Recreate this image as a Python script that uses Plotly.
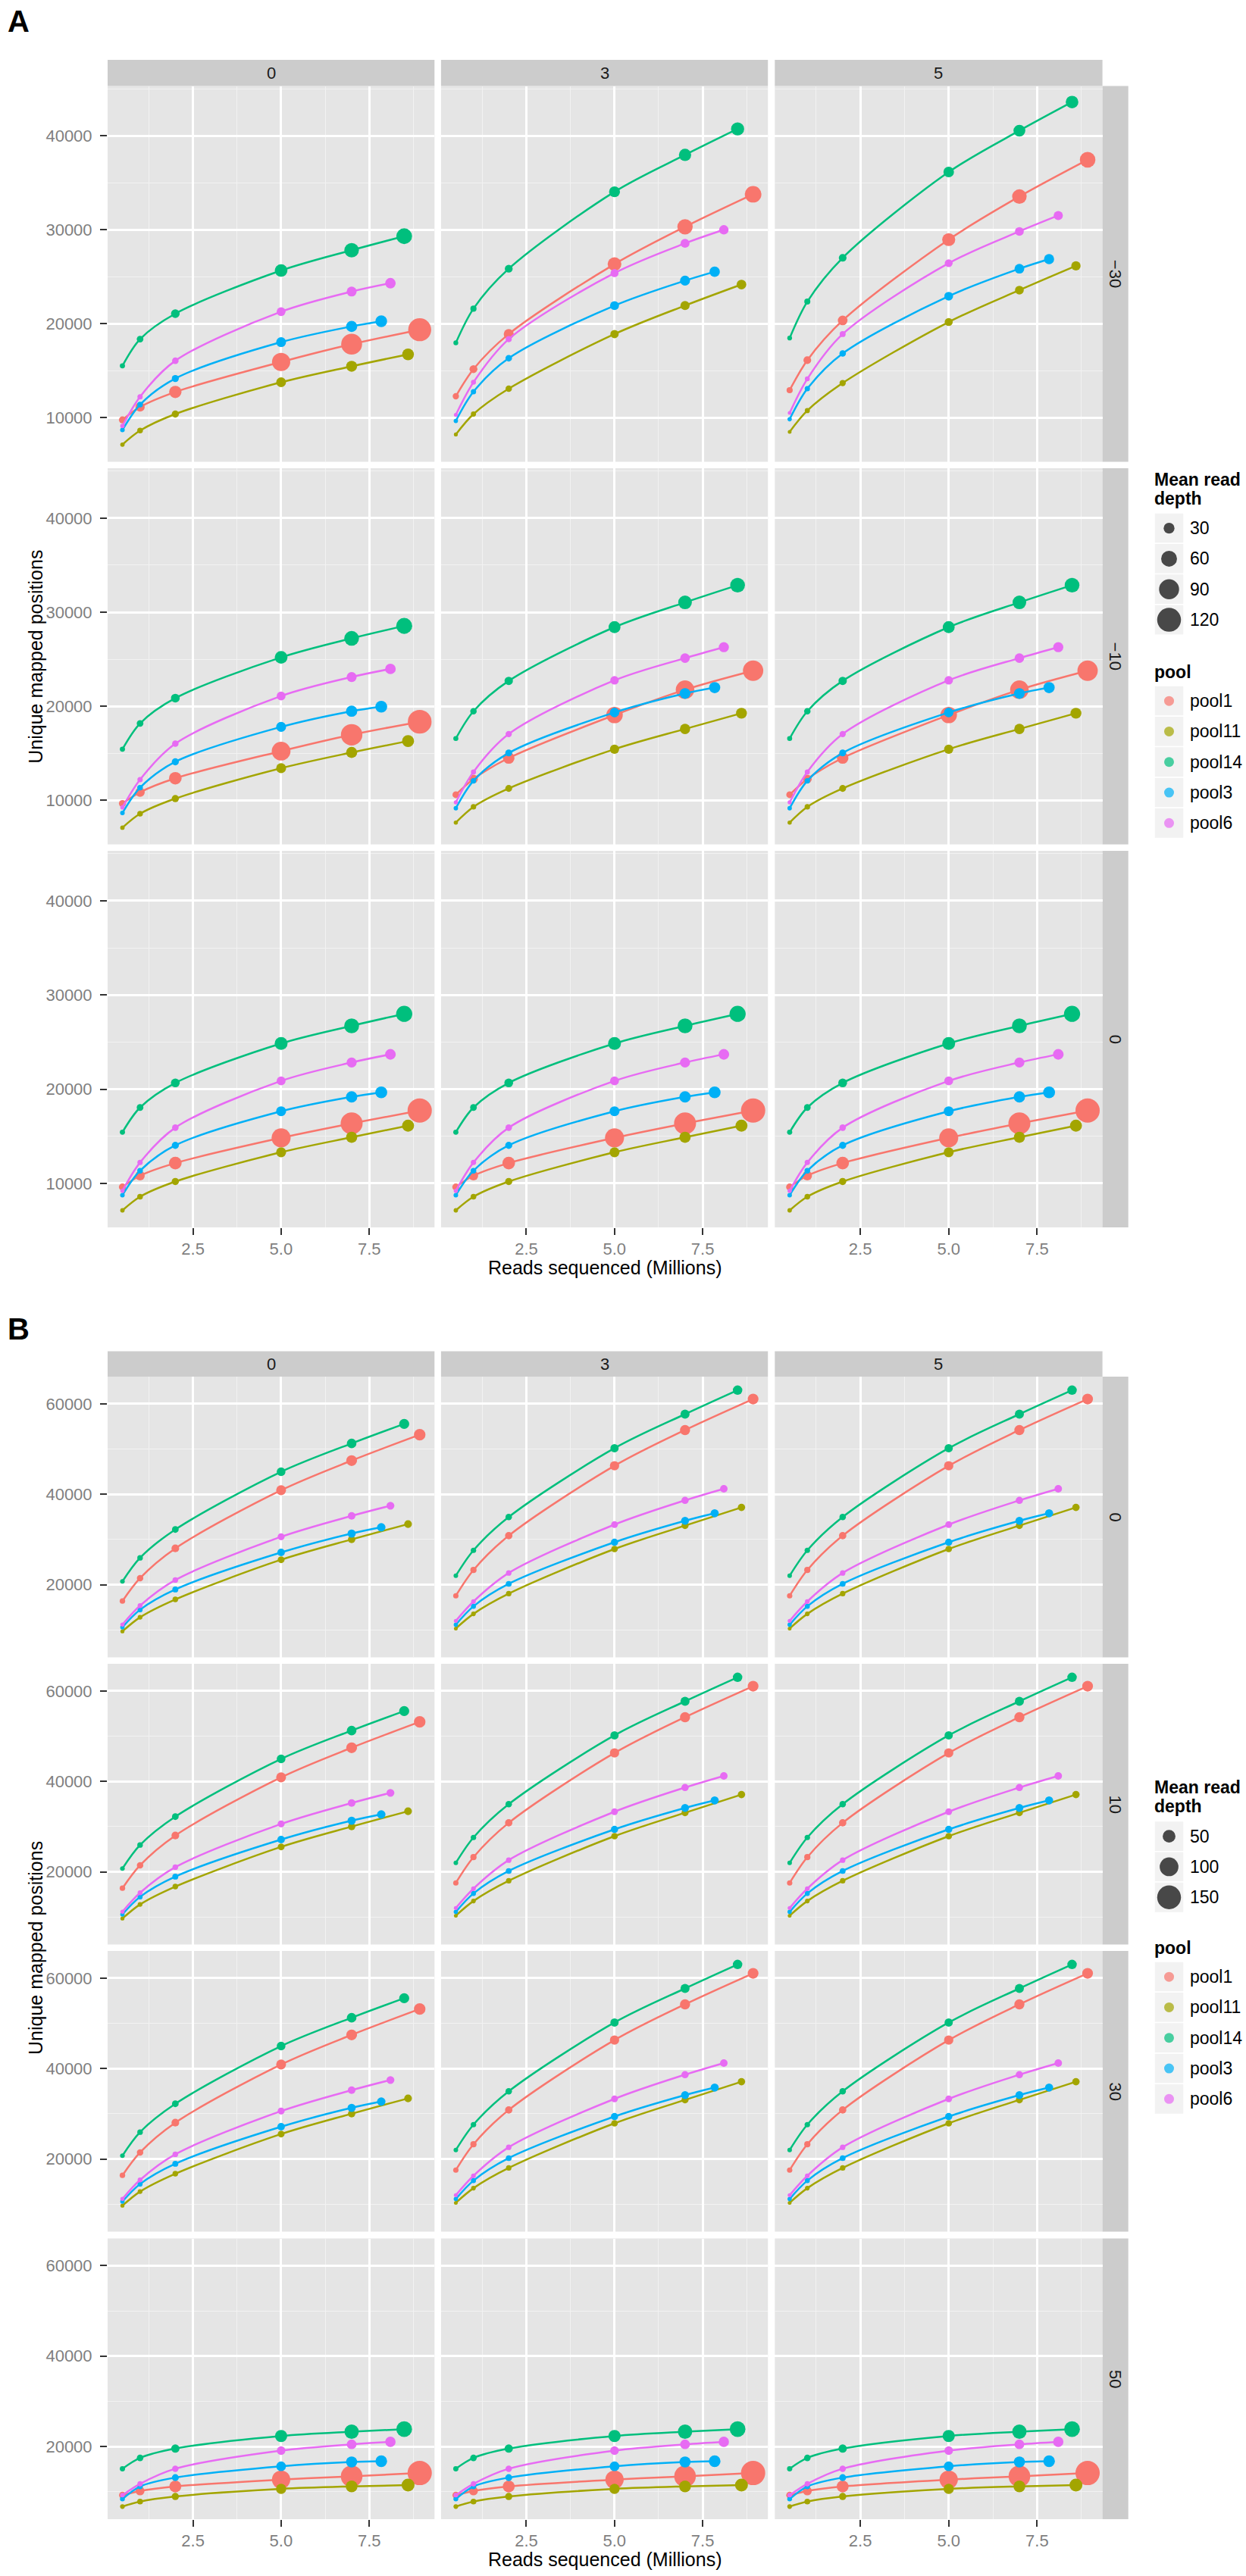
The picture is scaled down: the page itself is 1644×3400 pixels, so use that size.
import plotly.graph_objects as go

W, H = 1644, 3400
FONT = "Liberation Sans, Arial, sans-serif"

pools = ["pool1", "pool11", "pool14", "pool3", "pool6"]
pool_colors = ["#F8766D", "#A3A500", "#00BF7D", "#00B0F6", "#E76BF3"]

# reads sequenced (millions) at each subsample, per pool
reads = {
    "pool1": [0.5, 1, 2, 5, 7, 8.93],
    "pool11": [0.5, 1, 2, 5, 7, 8.6],
    "pool14": [0.5, 1, 2, 5, 7, 8.49],
    "pool3": [0.5, 1, 2, 5, 7, 7.84],
    "pool6": [0.5, 1, 2, 5, 7, 8.1],
}

x_ticks = [2.5, 5.0, 7.5]
x_minor = [1.25, 3.75, 6.25, 8.75]

#%% panel A : rows -30 / -10 / 0, columns 0 / 3 / 5

a_cols = ["0", "3", "5"]
a_rows = ["\u221230", "\u221210", "0"]
a_yticks = [10000, 20000, 30000, 40000]
a_yminor = [15000, 25000, 35000, 45000]
a_size_breaks = [30, 60, 90, 120]

posA_m30_0 = {
    "pool1": [9780, 11150, 12750, 15940, 17830, 19370],
    "pool11": [7150, 8640, 10400, 13780, 15480, 16750],
    "pool14": [15530, 18370, 21080, 25670, 27830, 29320],
    "pool3": [8700, 11400, 14180, 18050, 19720, 20270],
    "pool6": [9130, 12240, 16070, 21290, 23430, 24320],
}
depA_m30_0 = {
    "pool1": [12.5, 22.0, 38.4, 76.9, 96.2, 113],
    "pool11": [4.8, 7.9, 13.1, 24.7, 30.7, 34.9],
    "pool14": [6.6, 11.2, 19.5, 39.9, 51.6, 59.4],
    "pool3": [5.2, 7.9, 12.7, 24.9, 31.9, 34.8],
    "pool6": [4.7, 6.9, 10.6, 20.0, 25.4, 28.3],
}
posA_m30_3 = {
    "pool1": [12290, 15180, 18910, 26350, 30320, 33780],
    "pool11": [8230, 10400, 13100, 18910, 21940, 24180],
    "pool14": [17970, 21610, 25860, 34050, 37970, 40730],
    "pool3": [9670, 12770, 16340, 21940, 24590, 25540],
    "pool6": [10320, 13780, 18370, 25400, 28560, 30000],
}
depA_m30_3 = {
    "pool1": [10.0, 16.1, 25.9, 46.5, 56.6, 64.8],
    "pool11": [4.1, 6.5, 10.4, 18.0, 21.7, 24.2],
    "pool14": [5.7, 9.5, 15.9, 30.1, 37.8, 42.7],
    "pool3": [4.7, 7.0, 11.0, 20.5, 25.6, 27.6],
    "pool6": [4.1, 6.2, 9.3, 16.7, 20.8, 23.0],
}
posA_m30_5 = {
    "pool1": [12940, 16130, 20360, 28960, 33540, 37450],
    "pool11": [8510, 10770, 13700, 20190, 23580, 26160],
    "pool14": [18480, 22360, 27020, 36150, 40550, 43590],
    "pool3": [9850, 13090, 16850, 22940, 25860, 26880],
    "pool6": [10510, 14140, 18910, 26450, 29830, 31520],
}
depA_m30_5 = {
    "pool1": [9.5, 15.2, 24.1, 42.3, 51.1, 58.4],
    "pool11": [4.0, 6.3, 9.9, 16.8, 20.2, 22.4],
    "pool14": [5.5, 9.2, 15.2, 28.4, 35.4, 39.9],
    "pool3": [4.6, 6.9, 10.7, 19.6, 24.4, 26.3],
    "pool6": [4.0, 6.0, 9.0, 16.1, 19.9, 21.8],
}
posA_m10_0 = {
    "pool1": [9660, 10870, 12350, 15230, 16970, 18350],
    "pool11": [7100, 8580, 10190, 13420, 15090, 16300],
    "pool14": [15440, 18180, 20870, 25200, 27220, 28540],
    "pool3": [8660, 11350, 14100, 17810, 19480, 19960],
    "pool6": [9250, 12210, 16030, 21090, 23110, 23970],
}
depA_m10_0 = {
    "pool1": [12.7, 22.5, 39.7, 80.4, 101, 119],
    "pool11": [4.8, 7.9, 13.3, 25.3, 31.5, 35.9],
    "pool14": [6.6, 11.3, 19.6, 40.7, 52.7, 61.0],
    "pool3": [5.2, 7.9, 12.8, 25.3, 32.3, 35.4],
    "pool6": [4.6, 7.0, 10.6, 20.2, 25.7, 28.7],
}
# -10 / 3 and -10 / 5 read the same in the figure
posA_m10_3 = {
    "pool1": [10600, 12270, 14500, 19070, 21760, 23780],
    "pool11": [7640, 9310, 11270, 15440, 17590, 19260],
    "pool14": [16570, 19470, 22700, 28410, 31040, 32870],
    "pool3": [9170, 12080, 15040, 19340, 21360, 21980],
    "pool6": [9790, 13020, 17050, 22760, 25120, 26280],
}
depA_m10_3 = {
    "pool1": [11.6, 20.0, 33.8, 64.2, 78.8, 92.0],
    "pool11": [4.5, 7.3, 12.1, 22.0, 27.1, 30.4],
    "pool14": [6.2, 10.5, 18.1, 36.1, 46.2, 52.9],
    "pool3": [4.9, 7.5, 12.0, 23.3, 29.5, 32.1],
    "pool6": [4.3, 6.5, 10.0, 18.7, 23.7, 26.2],
}
# row 0 is the same in all three columns
posA_0 = {
    "pool1": [9600, 10810, 12150, 14830, 16360, 17730],
    "pool11": [7130, 8580, 10190, 13300, 14890, 16120],
    "pool14": [15430, 18050, 20660, 24850, 26720, 27990],
    "pool3": [8740, 11340, 14030, 17650, 19180, 19660],
    "pool6": [9200, 12210, 15910, 20870, 22830, 23690],
}
depA_0 = {
    "pool1": [12.8, 22.7, 40.3, 82.6, 104.8, 123.4],
    "pool11": [4.8, 7.9, 13.3, 25.6, 32.0, 36.3],
    "pool14": [6.6, 11.4, 19.8, 41.2, 53.7, 62.2],
    "pool3": [5.1, 7.9, 12.8, 25.5, 32.8, 35.9],
    "pool6": [4.6, 7.0, 10.7, 20.4, 26.1, 29.1],
}

#%% panel B : rows 0 / 10 / 30 / 50, columns 0 / 3 / 5

b_cols = ["0", "3", "5"]
b_rows = ["0", "10", "30", "50"]
b_yticks = [20000, 40000, 60000]
b_yminor = [10000, 30000, 50000]
b_size_breaks = [50, 100, 150]

# rows 0, 10 and 30 read the same
posB_0 = {
    "pool1": [16390, 21470, 28040, 40900, 47450, 53160],
    "pool11": [9700, 12810, 16750, 25530, 30020, 33410],
    "pool14": [20750, 25950, 32220, 44970, 51240, 55550],
    "pool3": [10600, 14480, 18960, 27140, 31320, 32700],
    "pool6": [11200, 15380, 21050, 30600, 35220, 37470],
}
depB_0 = {
    "pool1": [7.5, 11.4, 17.5, 30.0, 36.1, 41.2],
    "pool11": [3.5, 5.3, 8.1, 13.3, 15.9, 17.5],
    "pool14": [4.9, 7.9, 12.7, 22.8, 28.0, 31.3],
    "pool3": [4.2, 6.2, 9.5, 16.6, 20.1, 21.6],
    "pool6": [3.8, 5.5, 8.1, 13.9, 16.9, 18.4],
}
# columns 3 and 5 read the same
posB_3 = {
    "pool1": [17570, 23260, 30850, 46290, 54200, 61050],
    "pool11": [10330, 13560, 18030, 27900, 33080, 37090],
    "pool14": [22000, 27610, 34970, 50180, 57710, 63010],
    "pool3": [11170, 15230, 20200, 29400, 34130, 35800],
    "pool6": [12010, 16300, 22600, 33300, 38650, 41220],
}
depB_3 = {
    "pool1": [7.0, 10.5, 15.9, 26.5, 31.6, 35.8],
    "pool11": [3.3, 5.0, 7.5, 12.2, 14.4, 15.8],
    "pool14": [4.7, 7.4, 11.7, 20.4, 24.9, 27.6],
    "pool3": [4.0, 5.9, 8.9, 15.3, 18.5, 19.7],
    "pool6": [3.5, 5.2, 7.5, 12.8, 15.4, 16.7],
}
posB_50 = {
    "pool1": [9250, 10190, 11190, 12690, 13420, 14150],
    "pool11": [6740, 7840, 8960, 10640, 11190, 11470],
    "pool14": [15100, 17490, 19550, 22340, 23290, 23850],
    "pool3": [8410, 11190, 13140, 15650, 16600, 16770],
    "pool6": [9250, 11760, 15100, 19110, 20500, 21050],
}
depB_50 = {
    "pool1": [13.2, 24.0, 43.8, 96.5, 127.8, 154.6],
    "pool11": [5.0, 8.7, 15.2, 32.0, 42.5, 51.0],
    "pool14": [6.8, 11.7, 21.0, 45.9, 61.6, 73.0],
    "pool3": [5.4, 8.0, 13.7, 28.8, 38.0, 42.1],
    "pool6": [4.6, 7.2, 11.3, 22.2, 29.0, 32.7],
}

gridA = [
    [(posA_m30_0, depA_m30_0), (posA_m30_3, depA_m30_3), (posA_m30_5, depA_m30_5)],
    [(posA_m10_0, depA_m10_0), (posA_m10_3, depA_m10_3), (posA_m10_3, depA_m10_3)],
    [(posA_0, depA_0), (posA_0, depA_0), (posA_0, depA_0)],
]
gridB = [
    [(posB_0, depB_0), (posB_3, depB_3), (posB_3, depB_3)],
    [(posB_0, depB_0), (posB_3, depB_3), (posB_3, depB_3)],
    [(posB_0, depB_0), (posB_3, depB_3), (posB_3, depB_3)],
    [(posB_50, depB_50), (posB_50, depB_50), (posB_50, depB_50)],
]

#%% layout helpers (pixel positions of the ggplot panels)

COLS_PX = [(142.0, 573.3), (581.9, 1013.2), (1022.3, 1454.6)]
RSTRIP_PX = (1454.6, 1488.7)
A_ROWS_PX = [(113.5, 609.5), (618.0, 1114.5), (1123.0, 1620.0)]
A_STRIP_TOP = 79.0
B_ROWS_PX = [(1817.0, 2187.5), (2196.0, 2566.5), (2575.0, 2945.5), (2954.5, 3325.0)]
B_STRIP_TOP = 1783.5

X_RANGE = [0.08, 9.35]
A_YRANGE = [5320, 45300]
B_YRANGE = [3950, 66000]


def px_x(v):
    return v / W


def px_y(v):
    return 1 - v / H


def size_px(v, lo, hi):
    t = max(v - lo, 0) / (hi - lo)
    return 5 + 27 * t ** 0.7


def depth_limits(grid):
    vals = [v for row in grid for _, dep in row for p in pools for v in dep[p]]
    return min(vals), max(vals)


fig = go.Figure()
layout = {}
shapes = []
annotations = []


def rect(x0, x1, y0, y1, fill, line_color=None):
    shapes.append(dict(
        type="rect", xref="paper", yref="paper", layer="below",
        x0=px_x(x0), x1=px_x(x1), y0=px_y(y1), y1=px_y(y0),
        fillcolor=fill,
        line=dict(width=1.5 if line_color else 0, color=line_color or fill),
    ))


def text(s, x, y, size=22, color="#1A1A1A", xanchor="center", angle=0, bold=False):
    annotations.append(dict(
        text=f"<b>{s}</b>" if bold else s, x=px_x(x), y=px_y(y),
        xref="paper", yref="paper", showarrow=False,
        xanchor=xanchor, yanchor="middle", textangle=angle,
        font=dict(family=FONT, size=size, color=color),
    ))


def add_facets(grid, rows_px, strip_top, y_range, y_ticks, y_minor,
               col_labels, row_labels, start):
    lo, hi = depth_limits(grid)
    n_rows = len(rows_px)
    for r, (top, bot) in enumerate(rows_px):
        for c, (left, right) in enumerate(COLS_PX):
            n = start + r * 3 + c
            sfx = "" if n == 1 else str(n)
            pos, dep = grid[r][c]
            bottom_row = r == n_rows - 1
            left_col = c == 0
            common = dict(
                showgrid=True, gridcolor="white", gridwidth=2.7,
                zeroline=False, showline=False,
                ticklen=9, tickwidth=2.2, tickcolor="#333333",
                tickfont=dict(family=FONT, size=22, color="#7F7F7F"),
                fixedrange=True,
            )
            layout[f"xaxis{sfx}"] = dict(
                common, domain=[px_x(left), px_x(right)], range=X_RANGE,
                anchor=f"y{sfx}", tickmode="array", tickvals=x_ticks,
                tickformat=".1f", showticklabels=bottom_row,
                ticks="outside" if bottom_row else "",
                minor=dict(tickmode="array", tickvals=x_minor, showgrid=True,
                           gridcolor="#F2F2F2", gridwidth=1.3, ticks=""),
            )
            layout[f"yaxis{sfx}"] = dict(
                common, domain=[px_y(bot), px_y(top)], range=y_range,
                anchor=f"x{sfx}", tickmode="array", tickvals=y_ticks,
                tickformat="d", showticklabels=left_col,
                ticks="outside" if left_col else "", ticklabelstandoff=6,
                minor=dict(tickmode="array", tickvals=y_minor, showgrid=True,
                           gridcolor="#F2F2F2", gridwidth=1.3, ticks=""),
            )
            rect(left, right, top, bot, "#E5E5E5")
            for p, color in zip(pools, pool_colors):
                fig.add_trace(go.Scatter(
                    x=reads[p], y=pos[p], mode="lines+markers",
                    line=dict(color=color, width=2.5, shape="spline", smoothing=0.9),
                    marker=dict(color=color, opacity=1,
                                size=[size_px(v, lo, hi) for v in dep[p]],
                                line=dict(width=0)),
                    xaxis=f"x{sfx}", yaxis=f"y{sfx}",
                    showlegend=False, hoverinfo="skip",
                ))
        rect(RSTRIP_PX[0], RSTRIP_PX[1], top, bot, "#CCCCCC")
        text(row_labels[r], sum(RSTRIP_PX) / 2, (top + bot) / 2, angle=90)
    for c, (left, right) in enumerate(COLS_PX):
        rect(left, right, strip_top, rows_px[0][0], "#CCCCCC")
        text(col_labels[c], (left + right) / 2, (strip_top + rows_px[0][0]) / 2)
    return lo, hi


loA, hiA = add_facets(gridA, A_ROWS_PX, A_STRIP_TOP, A_YRANGE, a_yticks, a_yminor,
                      a_cols, a_rows, 1)
loB, hiB = add_facets(gridB, B_ROWS_PX, B_STRIP_TOP, B_YRANGE, b_yticks, b_yminor,
                      b_cols, b_rows, 10)

#%% axis titles and panel letters

for rows_px, letter_y, xlab_y in [(A_ROWS_PX, 28, 1673), (B_ROWS_PX, 1754, 3378)]:
    text("Unique mapped positions", 47, (rows_px[0][0] + rows_px[-1][1]) / 2,
         size=25, color="black", angle=-90)
    text("Reads sequenced (Millions)", (COLS_PX[0][0] + COLS_PX[-1][1]) / 2, xlab_y,
         size=25, color="black")
text("A", 8, 28, size=40, color="black", xanchor="left", bold=True)
text("B", 8, 1754, size=40, color="black", xanchor="left", bold=True)

#%% legends, drawn on an invisible overlay axis in pixel units

LEG_X0, LEG_X1 = 1523, 1562
key_cx = (LEG_X0 + LEG_X1) / 2
leg_x, leg_y, leg_s, leg_c = [], [], [], []


def legend_block(title_y, key_top, breaks, lo, hi, pool_title_y, pool_top):
    text("Mean read", LEG_X0 - 2, title_y, size=23, color="black", xanchor="left", bold=True)
    text("depth", LEG_X0 - 2, title_y + 25, size=23, color="black", xanchor="left", bold=True)
    kh = 40.3
    for i, b in enumerate(breaks):
        y0 = key_top + i * kh
        rect(LEG_X0, LEG_X1, y0, y0 + kh, "#F2F2F2", "white")
        leg_x.append(key_cx)
        leg_y.append(y0 + kh / 2)
        leg_s.append(size_px(b, lo, hi))
        leg_c.append("black")
        text(str(b), LEG_X1 + 6, y0 + kh / 2, size=23, color="black", xanchor="left")
    text("pool", LEG_X0 - 2, pool_title_y, size=23, color="black", xanchor="left", bold=True)
    for i, (p, color) in enumerate(zip(pools, pool_colors)):
        y0 = pool_top + i * kh
        rect(LEG_X0, LEG_X1, y0, y0 + kh, "#F2F2F2", "white")
        leg_x.append(key_cx)
        leg_y.append(y0 + kh / 2)
        leg_s.append(13)
        leg_c.append(color)
        text(p, LEG_X1 + 6, y0 + kh / 2, size=23, color="black", xanchor="left")


legend_block(633, 677, a_size_breaks, loA, hiA, 887, 905)
legend_block(2359, 2403.5, b_size_breaks, loB, hiB, 2571, 2589)

fig.add_trace(go.Scatter(
    x=leg_x, y=leg_y, mode="markers",
    marker=dict(size=leg_s, color=leg_c, line=dict(width=0)),
    xaxis="x22", yaxis="y22", showlegend=False, hoverinfo="skip",
))
layout["xaxis22"] = dict(domain=[0, 1], range=[0, W], visible=False,
                         anchor="y22", fixedrange=True)
layout["yaxis22"] = dict(domain=[0, 1], range=[H, 0], visible=False,
                         anchor="x22", fixedrange=True)

fig.update_layout(
    width=W, height=H,
    margin=dict(l=0, r=0, t=0, b=0),
    paper_bgcolor="white", plot_bgcolor="rgba(0,0,0,0)",
    font=dict(family=FONT),
    shapes=shapes, annotations=annotations,
    **layout,
)

fig.write_html("out.html", config={"displayModeBar": False},
               post_script="document.body.style.margin='0';")
